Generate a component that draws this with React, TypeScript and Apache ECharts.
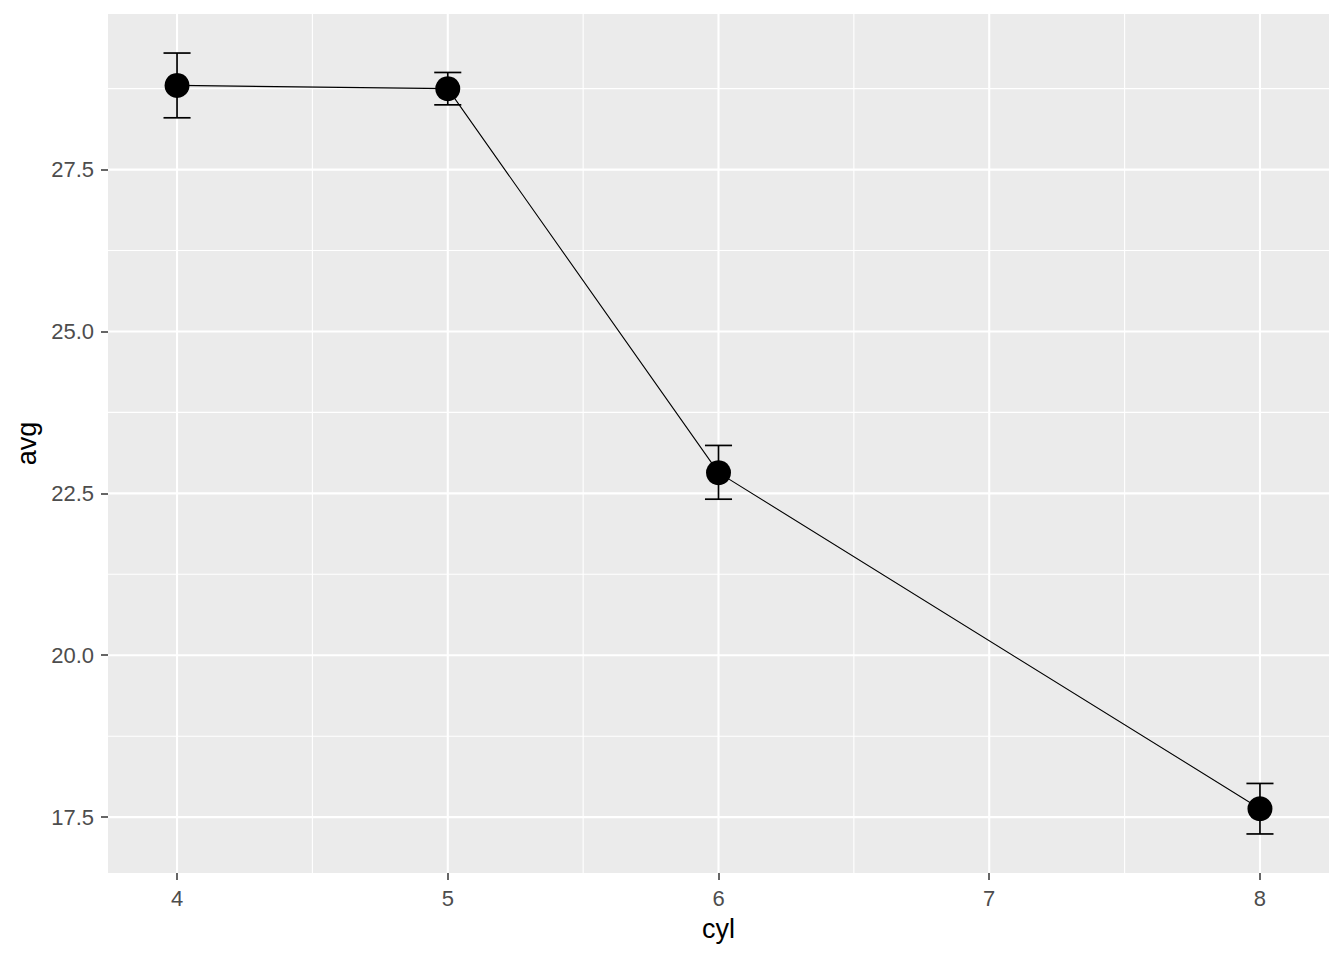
import React, { useEffect, useRef } from "react";
import * as echarts from "echarts";

// ---- data ----
const CYL = [4, 5, 6, 8];
const AVG = [28.8, 28.75, 22.82, 17.63];
const LOWER = [28.3, 28.5, 22.41, 17.24];
const UPPER = [29.3, 29.0, 23.24, 18.02];

const X_TICKS = [4, 5, 6, 7, 8];
const Y_TICKS = [17.5, 20, 22.5, 25, 27.5];
const X_MINOR = [4.5, 5.5, 6.5, 7.5];
const Y_MINOR = [18.75, 21.25, 23.75, 26.25, 28.75];

const ERR_HALF = 0.05;

const FONT = "'Liberation Sans', Arial, Helvetica, sans-serif";

export default function App() {
  const ref = useRef<HTMLDivElement>(null);

  useEffect(() => {
    if (!ref.current) return;
    const chart = echarts.init(ref.current, undefined, { renderer: "svg" });

    const xLo = Math.min(...CYL) - ERR_HALF;
    const xHi = Math.max(...CYL) + ERR_HALF;
    const xPad = (xHi - xLo) * 0.05;
    const xMin = xLo - xPad;
    const xMax = xHi + xPad;

    const yLo = Math.min(...LOWER);
    const yHi = Math.max(...UPPER);
    const yPad = (yHi - yLo) * 0.05;
    const yMin = yLo - yPad;
    const yMax = yHi + yPad;

    const vGrid = (vals: number[], width: number, name: string) => ({
      type: "custom",
      name,
      silent: true,
      z: 1,
      coordinateSystem: "cartesian2d",
      data: vals.map((v) => [v, yMin]),
      encode: { x: 0, y: 1 },
      renderItem: (_p: any, api: any) => {
        const v = api.value(0);
        const a = api.coord([v, yMin]);
        const b = api.coord([v, yMax]);
        return {
          type: "line",
          shape: { x1: a[0], y1: a[1], x2: b[0], y2: b[1] },
          style: { stroke: "#FFFFFF", lineWidth: width },
        };
      },
    });

    const hGrid = (vals: number[], width: number, name: string) => ({
      type: "custom",
      name,
      silent: true,
      z: 1,
      coordinateSystem: "cartesian2d",
      data: vals.map((v) => [xMin, v]),
      encode: { x: 0, y: 1 },
      renderItem: (_p: any, api: any) => {
        const v = api.value(1);
        const a = api.coord([xMin, v]);
        const b = api.coord([xMax, v]);
        return {
          type: "line",
          shape: { x1: a[0], y1: a[1], x2: b[0], y2: b[1] },
          style: { stroke: "#FFFFFF", lineWidth: width },
        };
      },
    });

    const option: any = {
      animation: false,
      textStyle: { fontFamily: FONT },
      grid: {
        left: 108,
        top: 14,
        right: 15,
        bottom: 87,
        show: true,
        backgroundColor: "#EBEBEB",
        borderWidth: 0,
      },
      xAxis: {
        type: "value",
        min: xMin,
        max: xMax,
        name: "cyl",
        nameLocation: "middle",
        nameGap: 42,
        nameTextStyle: { color: "#000000", fontSize: 27, fontFamily: FONT },
        axisLine: { show: false },
        splitLine: { show: false },
        axisTick: {
          show: true,
          length: 7,
          customValues: X_TICKS,
          lineStyle: { color: "#333333", width: 1.5 },
        },
        axisLabel: {
          customValues: X_TICKS,
          margin: 14,
          color: "#4D4D4D",
          fontSize: 22,
          fontFamily: FONT,
          formatter: (v: number) => String(v),
        },
      },
      yAxis: {
        type: "value",
        min: yMin,
        max: yMax,
        name: "avg",
        nameLocation: "middle",
        nameRotate: 90,
        nameGap: 64,
        nameTextStyle: { color: "#000000", fontSize: 27, fontFamily: FONT },
        axisLine: { show: false },
        splitLine: { show: false },
        axisTick: {
          show: true,
          length: 7,
          customValues: Y_TICKS,
          lineStyle: { color: "#333333", width: 1.5 },
        },
        axisLabel: {
          customValues: Y_TICKS,
          margin: 14,
          color: "#4D4D4D",
          fontSize: 22,
          fontFamily: FONT,
          formatter: (v: number) => v.toFixed(1),
        },
      },
      series: [
        vGrid(X_MINOR, 1.1, "xMinor"),
        hGrid(Y_MINOR, 1.1, "yMinor"),
        vGrid(X_TICKS, 2.1, "xMajor"),
        hGrid(Y_TICKS, 2.1, "yMajor"),
        {
          type: "line",
          name: "avg",
          z: 3,
          data: CYL.map((c, i) => [c, AVG[i]]),
          showSymbol: false,
          symbol: "none",
          lineStyle: { color: "#000000", width: 1.1 },
          silent: true,
        },
        {
          type: "custom",
          name: "errorbar",
          z: 4,
          silent: true,
          coordinateSystem: "cartesian2d",
          data: CYL.map((c, i) => [c, LOWER[i], UPPER[i]]),
          encode: { x: 0, y: [1, 2] },
          renderItem: (_p: any, api: any) => {
            const x = api.value(0);
            const lo = api.value(1);
            const hi = api.value(2);
            const top = api.coord([x, hi]);
            const bot = api.coord([x, lo]);
            const tl = api.coord([x - ERR_HALF, hi]);
            const tr = api.coord([x + ERR_HALF, hi]);
            const bl = api.coord([x - ERR_HALF, lo]);
            const br = api.coord([x + ERR_HALF, lo]);
            const st = { stroke: "#000000", lineWidth: 1.7 };
            return {
              type: "group",
              children: [
                { type: "line", shape: { x1: top[0], y1: top[1], x2: bot[0], y2: bot[1] }, style: st },
                { type: "line", shape: { x1: tl[0], y1: tl[1], x2: tr[0], y2: tr[1] }, style: st },
                { type: "line", shape: { x1: bl[0], y1: bl[1], x2: br[0], y2: br[1] }, style: st },
              ],
            };
          },
        },
        {
          type: "scatter",
          name: "points",
          z: 5,
          silent: true,
          data: CYL.map((c, i) => [c, AVG[i]]),
          symbol: "circle",
          symbolSize: 25,
          itemStyle: { color: "#000000", opacity: 1 },
        },
      ],
    };

    chart.setOption(option);
    return () => {
      chart.dispose();
    };
  }, []);

  return (
    <div
      ref={ref}
      style={{ position: "absolute", left: 0, top: 0, width: 1344, height: 960, background: "#FFFFFF" }}
    />
  );
}
